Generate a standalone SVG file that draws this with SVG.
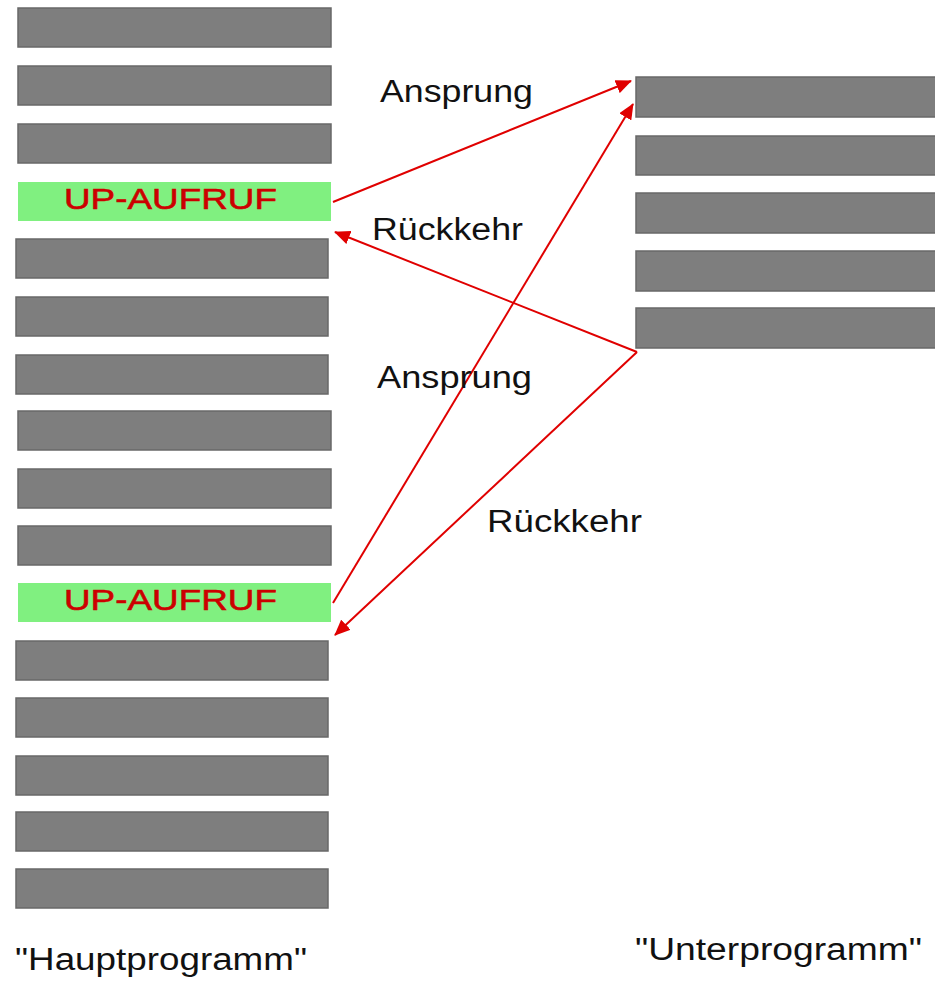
<svg xmlns="http://www.w3.org/2000/svg" width="935" height="984" viewBox="0 0 935 984">
<style>
.bar{fill:#7e7e7e;stroke:#686868;stroke-width:1.5}
.call{fill:#80f080}
.ct{font-family:"Liberation Sans",Arial,sans-serif;font-size:30px;fill:#cc0000;stroke:#cc0000;stroke-width:0.6}
.lbl{font-family:"Liberation Sans",Arial,sans-serif;font-size:31px;fill:#111}
.ttl{font-family:"Liberation Sans",Arial,sans-serif;font-size:31px;fill:#111}
.ln{stroke:#e00000;stroke-width:2;fill:none}
</style>
<defs>
<marker id="ah" markerWidth="16" markerHeight="14" refX="15" refY="7" orient="auto" markerUnits="userSpaceOnUse">
<path d="M0,0 L16,7 L0,14 Z" fill="#e00000"/>
</marker>
</defs>
<rect width="935" height="984" fill="#ffffff"/>
<g id="hauptprogramm">
<rect class="bar" x="18" y="8" width="313" height="39"/>
<rect class="bar" x="18" y="66" width="313" height="39"/>
<rect class="bar" x="18" y="124" width="313" height="39"/>
<g id="call1">
<rect class="call" x="18" y="182" width="313" height="39"/>
<text class="ct" x="64" y="209" textLength="213" lengthAdjust="spacingAndGlyphs">UP-AUFRUF</text>
</g>
<rect class="bar" x="16" y="239" width="312" height="39"/>
<rect class="bar" x="16" y="297" width="312" height="39"/>
<rect class="bar" x="16" y="355" width="312" height="39"/>
<rect class="bar" x="18" y="411" width="313" height="39"/>
<rect class="bar" x="18" y="469" width="313" height="39"/>
<rect class="bar" x="18" y="526" width="313" height="39"/>
<g id="call2">
<rect class="call" x="18" y="583" width="313" height="39"/>
<text class="ct" x="64" y="610" textLength="213" lengthAdjust="spacingAndGlyphs">UP-AUFRUF</text>
</g>
<rect class="bar" x="16" y="641" width="312" height="39"/>
<rect class="bar" x="16" y="698" width="312" height="39"/>
<rect class="bar" x="16" y="756" width="312" height="39"/>
<rect class="bar" x="16" y="812" width="312" height="39"/>
<rect class="bar" x="16" y="869" width="312" height="39"/>
<text class="ttl" x="15" y="970" textLength="292" lengthAdjust="spacingAndGlyphs">"Hauptprogramm"</text>
</g>
<g id="unterprogramm">
<rect class="bar" x="636" y="77" width="305" height="40"/>
<rect class="bar" x="636" y="136" width="305" height="39"/>
<rect class="bar" x="636" y="193" width="305" height="40"/>
<rect class="bar" x="636" y="251" width="305" height="40"/>
<rect class="bar" x="636" y="308" width="305" height="40"/>
<text class="ttl" x="635" y="960" textLength="287" lengthAdjust="spacingAndGlyphs">"Unterprogramm"</text>
</g>
<g id="connectors">
<line class="ln" x1="333" y1="202" x2="631" y2="81" marker-end="url(#ah)"/>
<line class="ln" x1="333" y1="603" x2="633" y2="104" marker-end="url(#ah)"/>
<line class="ln" x1="637" y1="352" x2="335" y2="232" marker-end="url(#ah)"/>
<line class="ln" x1="637" y1="352" x2="335" y2="635" marker-end="url(#ah)"/>
<text class="lbl" x="380" y="102" textLength="153" lengthAdjust="spacingAndGlyphs">Ansprung</text>
<text class="lbl" x="372" y="240" textLength="151" lengthAdjust="spacingAndGlyphs">Rückkehr</text>
<text class="lbl" x="377" y="388" textLength="155" lengthAdjust="spacingAndGlyphs">Ansprung</text>
<text class="lbl" x="487" y="532" textLength="155" lengthAdjust="spacingAndGlyphs">Rückkehr</text>
</g>
</svg>
